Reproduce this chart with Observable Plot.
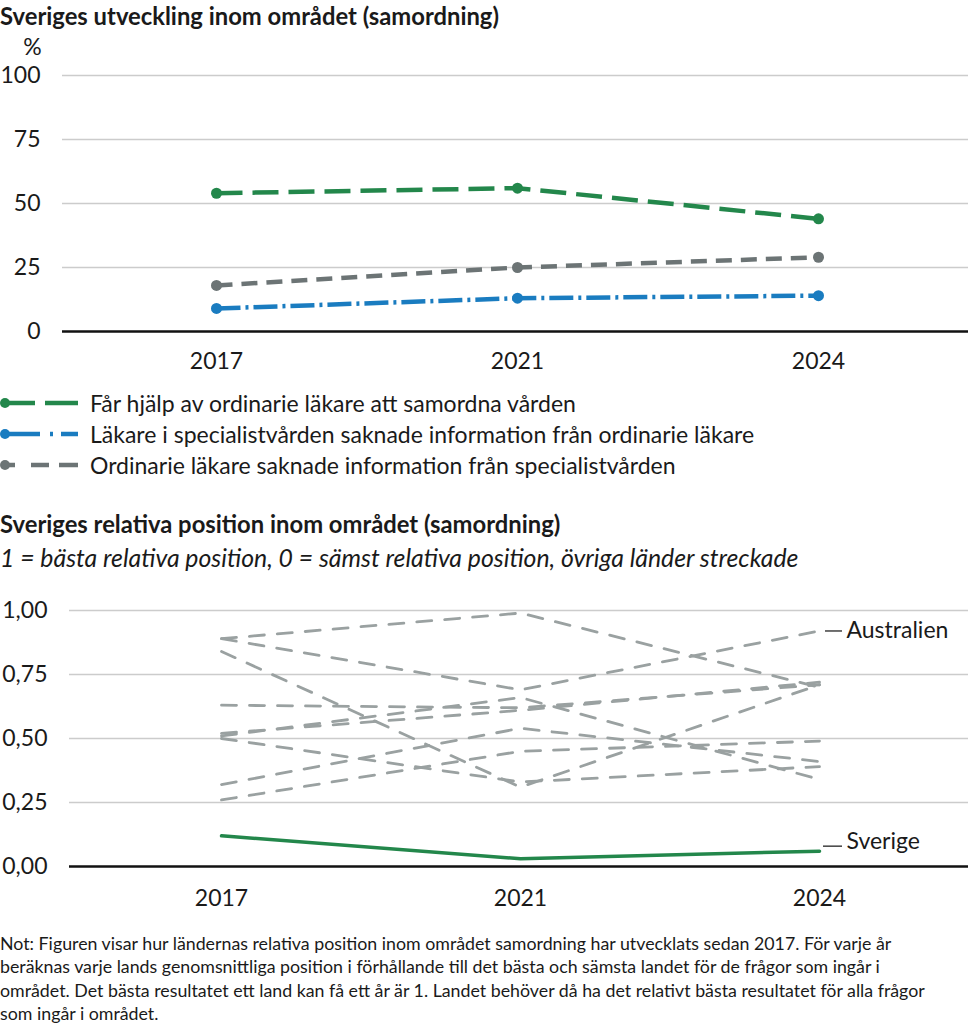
<!DOCTYPE html>
<html lang="sv">
<head>
<meta charset="utf-8">
<script src="https://cdn.jsdelivr.net/npm/d3@7"></script>
<script src="https://cdn.jsdelivr.net/npm/@observablehq/plot@0.6"></script>
<style>
  html, body { margin: 0; padding: 0; background: #fff; }
  body { width: 968px; height: 1024px; position: relative; overflow: hidden;
         font-family: Lato, "Noto Sans", sans-serif; color: #1a1a1a; }
  .abs { position: absolute; left: 0; }
  .title { font-weight: 700; font-size: 23.8px; line-height: 26px; white-space: nowrap; }
  .sub { font-style: italic; font-size: 24.8px; line-height: 26px; white-space: nowrap; }
  .legend-row { position: absolute; left: 0; height: 31px; display: flex; align-items: center; font-size: 23px; white-space: nowrap; }
  .legend-row svg { margin-right: 10px; }
  .note { font-size: 17.8px; line-height: 23.4px; white-space: nowrap; }
</style>
</head>
<body>
<div id="t1" class="abs title" style="top:3px">Sveriges utveckling inom området (samordning)</div>
<div id="chart1" class="abs" style="top:30px"></div>
<div id="legend"></div>
<div id="t2" class="abs title" style="top:511px">Sveriges relativa position inom området (samordning)</div>
<div id="s2" class="abs sub" style="top:545px">1 = bästa relativa position, 0 = sämst relativa position, övriga länder streckade</div>
<div id="chart2" class="abs" style="top:580px"></div>
<div id="note" class="abs note" style="top:932px">Not: Figuren visar hur ländernas relativa position inom området samordning har utvecklats sedan 2017. För varje år<br>beräknas varje lands genomsnittliga position i förhållande till det bästa och sämsta landet för de frågor som ingår i<br>området. Det bästa resultatet ett land kan få ett år är 1. Landet behöver då ha det relativt bästa resultatet för alla frågor<br>som ingår i området.</div>

<script>
// ---------- Data ----------
const years = ["2017", "2021", "2024"];

// Top chart (percent)
const seriesNames = [
  "Får hjälp av ordinarie läkare att samordna vården",
  "Läkare i specialistvården saknade information från ordinarie läkare",
  "Ordinarie läkare saknade information från specialistvården"
];
const samordnaVarden = [54, 56, 44];
const specialistSaknadeInfo = [9, 13, 14];
const ordinarieSaknadeInfo = [18, 25, 29];
const yTicksTop = [0, 25, 50, 75, 100];

// Bottom chart (relative position)
const sverige = [0.12, 0.03, 0.06];
const australien = [0.89, 0.69, 0.92];
const land1 = [0.89, 0.99, 0.70];
const land2 = [0.84, 0.31, 0.71];
const land3 = [0.63, 0.62, 0.71];
const land4 = [0.52, 0.61, 0.72];
const land5 = [0.51, 0.66, 0.34];
const land6 = [0.50, 0.33, 0.39];
const land7 = [0.32, 0.54, 0.41];
const land8 = [0.26, 0.45, 0.49];
const yTicksBottom = [0, 0.25, 0.5, 0.75, 1];

// ---------- Styles ----------
const colors = ["#23874b", "#1a7cc0", "#6c7475"];
const dashes = ["26,10", "24,5,3,5", "16,9"];
const legendDashes = ["30,10,40", "35,10,3,8,40", "10,16,18,10,40"];
const font = "Lato, 'Noto Sans', sans-serif";
const tickFont = 23;

// ---------- Top chart ----------
const topValues = [samordnaVarden, specialistSaknadeInfo, ordinarieSaknadeInfo];
const topData = seriesNames.flatMap((s, i) => years.map((yr, j) => ({serie: s, year: yr, value: topValues[i][j]})));

const lineMarks = seriesNames.map((s, i) =>
  Plot.line(topData.filter(d => d.serie === s), {
    x: "year", y: "value", stroke: colors[i], strokeWidth: 4.5,
    strokeDasharray: dashes[i], strokeLinecap: "butt", strokeLinejoin: "round"
  })
);
const dotMarks = seriesNames.map((s, i) =>
  Plot.dot(topData.filter(d => d.serie === s), {x: "year", y: "value", fill: colors[i], r: 5.5})
);

const chart1 = Plot.plot({
  width: 968, height: 350,
  marginTop: 45, marginBottom: 49, marginLeft: 62, marginRight: 0,
  style: {fontFamily: font, fontSize: tickFont + "px", color: "#1a1a1a", background: "white"},
  x: {type: "point", domain: years, range: [216, 818], padding: 0},
  y: {domain: [0, 100]},
  marks: [
    Plot.gridY(yTicksTop.filter(d => d > 0), {stroke: "#cccccc", strokeOpacity: 1, strokeWidth: 1.5}),
    Plot.axisY({ticks: yTicksTop, tickSize: 0, tickPadding: 22, label: null, fontSize: tickFont}),
    Plot.axisX({tickSize: 0, tickPadding: 21, label: null, fontSize: tickFont}),
    Plot.ruleY([0], {stroke: "#111", strokeWidth: 2.5}),
    ...lineMarks,
    ...dotMarks,
    Plot.text(["%"], {text: d => d, frameAnchor: "top-left", textAnchor: "middle", lineAnchor: "middle", dx: -30, dy: -28, fontSize: tickFont})
  ]
});
document.getElementById("chart1").appendChild(chart1);

// ---------- Legend ----------
const legend = document.getElementById("legend");
seriesNames.forEach((s, i) => {
  const row = document.createElement("div");
  row.className = "legend-row";
  row.style.top = (387 + i * 31) + "px";
  row.innerHTML = `<svg width="80" height="14"><line x1="5" y1="7" x2="78" y2="7" stroke="${colors[i]}" stroke-width="4.5" stroke-dasharray="${legendDashes[i]}"/><circle cx="5" cy="7" r="5" fill="${colors[i]}"/></svg><span>${s}</span>`;
  legend.appendChild(row);
});

// ---------- Bottom chart ----------
const others = [australien, land1, land2, land3, land4, land5, land6, land7, land8];
const otherNames = ["Australien", "Land 1", "Land 2", "Land 3", "Land 4", "Land 5", "Land 6", "Land 7", "Land 8"];
const otherData = otherNames.flatMap((n, i) => years.map((yr, j) => ({land: n, year: yr, value: others[i][j]})));
const sverigeData = years.map((yr, j) => ({land: "Sverige", year: yr, value: sverige[j]}));
const ausLast = [{land: "Australien", year: years[2], value: australien[2]}];
const sweLast = [{land: "Sverige", year: years[2], value: sverige[2]}];
const fmt = d => d.toFixed(2).replace(".", ",");

const chart2 = Plot.plot({
  width: 968, height: 340,
  marginTop: 30, marginBottom: 54, marginLeft: 69, marginRight: 0,
  style: {fontFamily: font, fontSize: tickFont + "px", color: "#1a1a1a", background: "white"},
  x: {type: "point", domain: years, range: [221, 819], padding: 0},
  y: {domain: [0, 1]},
  marks: [
    Plot.gridY(yTicksBottom.filter(d => d > 0), {stroke: "#cccccc", strokeOpacity: 1, strokeWidth: 1.5}),
    Plot.axisY({ticks: yTicksBottom, tickFormat: fmt, tickSize: 0, tickPadding: 22, label: null, fontSize: tickFont}),
    Plot.axisX({tickSize: 0, tickPadding: 23, label: null, fontSize: tickFont}),
    Plot.ruleY([0], {stroke: "#111", strokeWidth: 2.5}),
    Plot.line(otherData, {x: "year", y: "value", z: "land", stroke: "#9aa1a1", strokeWidth: 2.8, strokeDasharray: "15,13"}),
    Plot.line(sverigeData, {x: "year", y: "value", stroke: "#23874b", strokeWidth: 3.5}),
    Plot.ruleY(ausLast, {x1: "year", x2: "year", y: "value", insetLeft: 6, insetRight: -23, stroke: "#111", strokeWidth: 1.2}),
    Plot.text(ausLast, {x: "year", y: "value", text: "land", dx: 27, textAnchor: "start", fontSize: tickFont}),
    Plot.ruleY(sweLast, {x1: "year", x2: "year", y: "value", insetLeft: 4, insetRight: -23, dy: -5, stroke: "#111", strokeWidth: 1.2}),
    Plot.text(sweLast, {x: "year", y: "value", text: "land", dx: 27, dy: -10, textAnchor: "start", fontSize: tickFont})
  ]
});
document.getElementById("chart2").appendChild(chart2);
</script>
</body>
</html>
